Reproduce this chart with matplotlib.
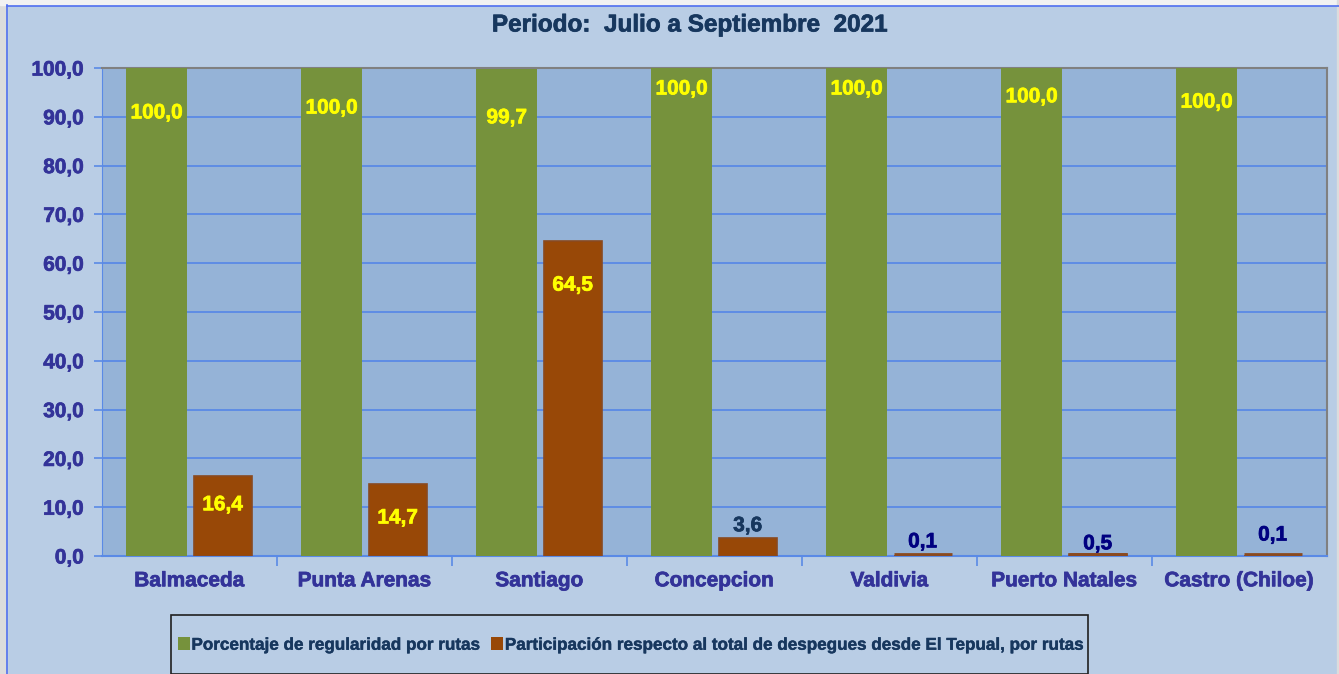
import matplotlib
matplotlib.use('Agg')
import matplotlib.pyplot as plt
from matplotlib.patches import Rectangle, Patch
import matplotlib.patheffects as pe
import numpy as np

plt.rcParams['font.family'] = ['Liberation Sans', 'DejaVu Sans']

# data
routes = ['Balmaceda', 'Punta Arenas', 'Santiago', 'Concepcion', 'Valdivia',
          'Puerto Natales', 'Castro (Chiloe)']
regularidad = [100.0, 100.0, 99.7, 100.0, 100.0, 100.0, 100.0]
participacion = [16.4, 14.7, 64.5, 3.6, 0.1, 0.5, 0.1]
yticks = np.arange(0, 101, 10)

# where the value labels sit (data units)
reg_label_y = [90.8, 91.8, 89.8, 95.7, 95.7, 94.1, 93.0]
par_label_y = [10.5, 7.8, 55.5, 6.2, 2.9, 2.5, 4.3]
par_label_c = ['yellow', 'yellow', 'yellow', '#17375E', '#000080', '#000080', '#000080']

bg = '#B9CDE5'
plot_bg = '#95B3D7'
green = '#76923C'
brown = '#984807'
grid_c = '#5A8AE6'
tick_c = '#333399'
title_c = '#17375E'


def heavy(color, w=0.5):
    return [pe.withStroke(linewidth=w, foreground=color)]


W, H = 1339, 674
fig = plt.figure(figsize=(W / 100, H / 100), dpi=100, facecolor=bg)

# outer frame bits
fig.patches.append(Rectangle((0, 0), 7 / W, 1, transform=fig.transFigure, color='#DCDCDC', zorder=0))
fig.patches.append(Rectangle((0, 1 - 5 / H), 1, 5 / H, transform=fig.transFigure, color='#F2F2F2', zorder=0))
fig.patches.append(Rectangle((1337 / W, 0), 2 / W, 1, transform=fig.transFigure, color='#DCDCDC', zorder=0))
fig.lines.append(plt.Line2D([7 / W, 7 / W], [0, 1 - 5 / H], transform=fig.transFigure, color='#4F6FF0', lw=1.2))
fig.lines.append(plt.Line2D([7 / W, 1], [1 - 5.5 / H, 1 - 5.5 / H], transform=fig.transFigure, color='#4F6FF0', lw=1.2))

ax = fig.add_axes([102 / W, (H - 556) / H, 1225 / W, 488 / H])
ax.set_facecolor(plot_bg)

x = np.arange(len(routes))
ax.bar(x - 0.187, regularidad, width=0.35, color=green, zorder=3)
ax.bar(x + 0.19, participacion, width=0.33, color=brown, edgecolor='#8A4A20', linewidth=1.2, zorder=3)
# hairline bars (0,1 / 0,5) still show as a thin line above the axis
ax.bar(x + 0.19, participacion, width=0.33, bottom=0.35, color='none', edgecolor='#8A4A20',
       linewidth=0, zorder=3)
for i, v in enumerate(participacion):
    if v < 1:
        ax.plot([x[i] + 0.19 - 0.165, x[i] + 0.19 + 0.165], [max(v, 0.45)] * 2,
                color='#8A4A20', lw=2, solid_capstyle='butt', zorder=4)

for i in range(len(routes)):
    ax.text(x[i] - 0.187, reg_label_y[i], f'{regularidad[i]:.1f}'.replace('.', ','),
            ha='center', va='center', color='yellow', fontsize=15, fontweight='bold', zorder=4,
            path_effects=heavy('yellow'))
    ax.text(x[i] + 0.19, par_label_y[i], f'{participacion[i]:.1f}'.replace('.', ','),
            ha='center', va='center', color=par_label_c[i], fontsize=15, fontweight='bold', zorder=4,
            path_effects=heavy(par_label_c[i]))

ax.set_xlim(-0.5, len(routes) - 0.5)
ax.set_ylim(0, 100)
ax.set_yticks(yticks)
ax.set_yticklabels([f'{v:.1f}'.replace('.', ',') for v in yticks])
ax.yaxis.grid(True, color=grid_c, lw=1.3, zorder=1)
ax.set_axisbelow(True)

ax.set_xticks(x)
ax.set_xticklabels(routes)
ax.set_xticks(np.arange(0.5, len(routes) - 0.5, 1), minor=True)
ax.tick_params(axis='x', which='major', length=0, pad=11, labelsize=15, labelcolor=tick_c)
ax.tick_params(axis='x', which='minor', length=7, width=1.2, color=grid_c, direction='out')
ax.tick_params(axis='y', length=6, width=1.2, color=grid_c, direction='out', pad=7, labelsize=15, labelcolor=tick_c)
for lab in ax.get_xticklabels() + ax.get_yticklabels():
    lab.set_fontweight('bold')
    lab.set_path_effects(heavy(tick_c))

ax.spines['left'].set_color(grid_c)
ax.spines['bottom'].set_color(grid_c)
ax.spines['bottom'].set_linewidth(1.5)
ax.spines['top'].set_color('#808080')
ax.spines['right'].set_color('#808080')
ax.spines['top'].set_linewidth(1.5)
ax.spines['right'].set_linewidth(1.5)

fig.text(690 / W, 1 - 25 / H, 'Periodo:  Julio a Septiembre  2021', ha='center', va='center',
         fontsize=17.5, fontweight='bold', color=title_c, path_effects=heavy(title_c))

# legend box
fig.patches.append(Rectangle((171 / W, 0), (1088 - 171) / W, (H - 615) / H, transform=fig.transFigure,
                             facecolor=bg, edgecolor='#202020', lw=1.2, zorder=1))
handles = [Patch(facecolor=green, edgecolor='none'),
           Patch(facecolor=brown, edgecolor='none')]
leg = fig.legend(handles, ['Porcentaje de regularidad por rutas',
                           'Participación respecto al total de despegues desde El Tepual, por rutas'],
                 loc='center', bbox_to_anchor=(632 / W, 1 - 645 / H), ncol=2, frameon=False,
                 handlelength=0.7, handleheight=0.8, handletextpad=0.1, columnspacing=0.6,
                 prop={'weight': 'bold', 'size': 12.3})
for t in leg.get_texts():
    t.set_color(title_c)
    t.set_path_effects(heavy(title_c, 0.3))

fig.savefig('out.png', dpi=100, facecolor=bg)
